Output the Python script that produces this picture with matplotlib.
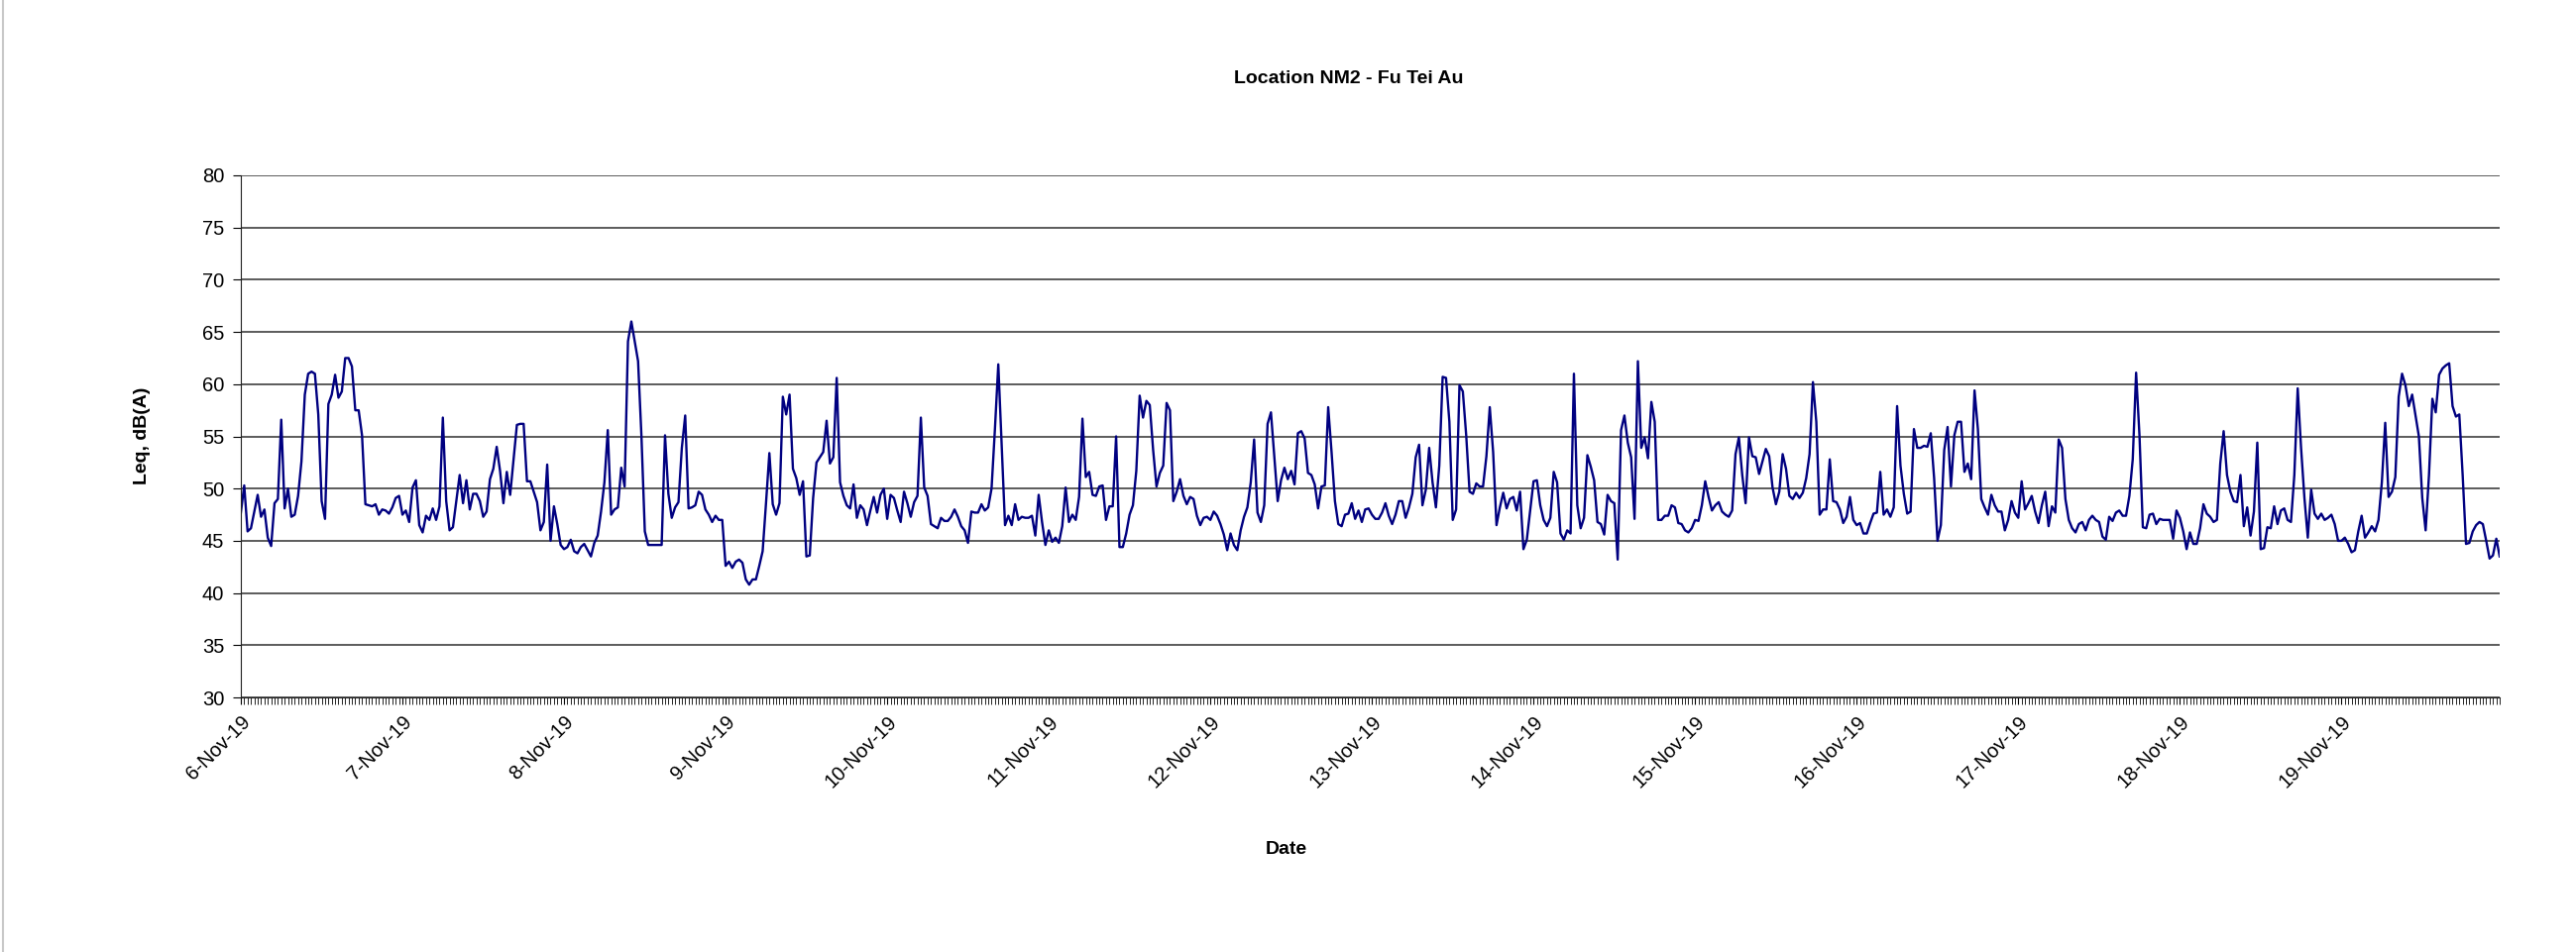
import numpy as np
import pandas as pd
import matplotlib
matplotlib.use('Agg')
from matplotlib import pyplot as plt
import matplotlib.dates as mdates

# half-hourly Leq readings in consecutive pieces
leq_a = [47.7, 50.3, 45.9, 46.2, 47.8, 49.4, 47.3, 48.0, 45.3, 44.5,
         48.6, 49.0, 56.6, 48.1, 50.0, 47.3, 47.5, 49.3, 52.6, 59.0,
         61.0, 61.2, 61.0, 57.1, 48.8, 47.1, 58.1, 59.0, 60.9, 58.7,
         59.3, 62.5, 62.5, 61.7, 57.5, 57.5, 55.1, 48.5, 48.4, 48.3,
         48.5, 47.5, 48.0, 47.9, 47.6, 48.2, 49.1, 49.3, 47.5, 47.9,
         46.8, 50.1, 50.8, 46.5, 45.8, 47.4, 47.0, 48.1, 47.0, 48.3,
         56.8, 48.8, 46.0, 46.3, 48.8, 51.3, 48.6, 50.8, 48.0, 49.5,
         49.5, 48.8, 47.3, 47.8, 50.9, 51.9, 54.0, 51.7, 48.6, 51.6,
         49.4, 52.8, 56.1, 56.2]

leq_b = [56.2, 50.7, 50.7, 49.7, 48.7, 46.0, 46.8, 52.3, 45.0, 48.3,
         46.6, 44.6, 44.2, 44.4, 45.1, 44.0, 43.8, 44.4, 44.7, 44.1,
         43.5, 44.8, 45.5, 47.8, 50.6, 55.6, 47.5, 48.0, 48.2, 52.0,
         50.2, 64.1, 66.0, 64.1, 62.2, 55.0, 45.9, 44.6, 44.6, 44.6,
         44.6, 44.6, 55.1, 49.5, 47.2, 48.2, 48.7, 53.9, 57.0, 48.1,
         48.2, 48.4, 49.7, 49.4, 48.0, 47.5, 46.8, 47.4, 47.0, 47.0,
         42.6, 43.0, 42.4, 43.0, 43.2, 42.9, 41.3, 40.8, 41.3, 41.3,
         42.6, 44.0, 48.6, 53.4, 48.5, 47.5, 48.6, 58.8, 57.1, 59.0,
         51.9, 51.0, 49.4, 50.7, 43.5, 43.6, 49.1, 52.5, 53.0]

leq_c = [53.5, 56.5, 52.4, 53.0, 60.6, 50.6, 49.3, 48.4, 48.1, 50.4,
         47.2, 48.4, 48.0, 46.5, 47.9, 49.2, 47.7, 49.4, 50.0, 47.1,
         49.4, 49.1, 47.9, 46.8, 49.7, 48.6, 47.3, 48.7, 49.3, 56.8,
         50.1, 49.3, 46.6, 46.4, 46.2, 47.2, 46.9, 46.9, 47.3, 48.0,
         47.3, 46.4, 46.0, 44.8, 47.8, 47.7, 47.7, 48.5, 47.9, 48.2,
         50.0, 55.7, 61.9, 54.1, 46.5, 47.4, 46.5, 48.5, 47.0, 47.3,
         47.2, 47.2, 47.4, 45.5, 49.4, 46.8, 44.6, 46.0, 44.9, 45.3,
         44.8, 46.4, 50.1, 46.8, 47.5, 47.0, 49.2, 56.7, 51.1, 51.6,
         49.4, 49.3, 50.2, 50.3, 47.0, 48.3, 48.3, 55.0, 44.4]

leq_d = [44.4, 45.7, 47.5, 48.4, 51.7, 58.9, 56.8, 58.4, 58.0, 53.7,
         50.2, 51.5, 52.2, 58.2, 57.5, 48.8, 49.7, 50.9, 49.3, 48.5,
         49.2, 49.0, 47.4, 46.5, 47.2, 47.3, 47.0, 47.8, 47.4, 46.6,
         45.6, 44.1, 45.7, 44.6, 44.1, 46.0, 47.3, 48.2, 50.6, 54.7,
         47.7, 46.8, 48.4, 56.2, 57.3, 53.1, 48.8, 50.8, 52.0, 50.9,
         51.7, 50.4, 55.3, 55.5, 54.8, 51.5, 51.3, 50.4, 48.1, 50.2,
         50.3, 57.8, 53.5, 48.8, 46.6, 46.4, 47.5, 47.6, 48.6, 47.1,
         47.9, 46.8, 48.0, 48.1, 47.5, 47.1, 47.1, 47.7, 48.6, 47.4,
         46.6, 47.5, 48.8, 48.8, 47.2, 48.2, 49.5, 53.0]

leq_e = [54.2, 48.4, 49.9, 53.9, 50.6, 48.2, 52.2, 60.7, 60.6, 56.4,
         47.0, 48.0, 59.9, 59.3, 55.1, 49.7, 49.5, 50.5, 50.2, 50.2,
         53.1, 57.8, 53.5, 46.5, 48.2, 49.6, 48.1, 49.0, 49.2, 47.9,
         49.7, 44.2, 45.1, 47.9, 50.7, 50.8, 48.4, 47.0, 46.4, 47.2,
         51.6, 50.6, 45.7, 45.1, 46.0, 45.7, 61.0, 48.4, 46.2, 47.2,
         53.2, 52.1, 50.8, 46.8, 46.6, 45.6, 49.4, 48.8, 48.6, 43.2,
         55.6, 57.0, 54.4, 53.0, 47.1, 62.2, 53.9, 54.9, 52.9, 58.3,
         56.4, 47.0, 47.0, 47.4, 47.4, 48.4, 48.2, 46.7, 46.6, 46.0,
         45.8, 46.2, 47.0, 46.9, 48.4, 50.7, 49.2, 47.9]

leq_f = [48.4, 48.7, 47.8, 47.5, 47.3, 47.9, 53.3, 54.9, 51.3, 48.6,
         54.9, 53.1, 53.0, 51.4, 52.6, 53.8, 53.1, 50.1, 48.5, 49.7,
         53.3, 51.9, 49.3, 49.0, 49.6, 49.1, 49.6, 51.0, 53.3, 60.2,
         56.4, 47.5, 48.0, 48.0, 52.8, 48.8, 48.7, 48.0, 46.7, 47.3,
         49.2, 47.0, 46.5, 46.7, 45.7, 45.7, 46.7, 47.6, 47.7, 51.6,
         47.5, 48.0, 47.3, 48.2, 57.9, 52.2, 49.5, 47.6, 47.8, 55.7,
         53.9, 53.9, 54.1, 54.0, 55.3, 51.0, 45.0, 46.5, 53.7, 55.9,
         50.2, 55.1, 56.4, 56.4, 51.6, 52.4, 50.9, 59.4, 55.7, 49.0,
         48.2, 47.5, 49.4, 48.4, 47.8, 47.8, 46.0, 47.0, 48.8]

leq_g = [47.7, 47.2, 50.7, 48.0, 48.6, 49.3, 47.8, 46.7, 48.4, 49.7,
         46.4, 48.3, 47.7, 54.7, 53.9, 49.0, 47.0, 46.2, 45.8, 46.6,
         46.8, 46.0, 47.0, 47.4, 47.0, 46.8, 45.4, 45.1, 47.3, 46.9,
         47.7, 47.9, 47.4, 47.4, 49.3, 52.8, 61.1, 55.1, 46.3, 46.2,
         47.5, 47.6, 46.6, 47.1, 47.0, 47.0, 47.0, 45.2, 47.9, 47.2,
         45.9, 44.2, 45.8, 44.7, 44.7, 46.2, 48.5, 47.6, 47.3, 46.8,
         47.0, 52.4, 55.5, 51.3, 49.7, 48.8, 48.7, 51.3, 46.4, 48.2,
         45.5, 47.8, 54.4, 44.2, 44.3, 46.3, 46.2, 48.3, 46.6]

leq_h = [47.9, 48.1, 47.0, 46.8, 51.3, 59.6, 53.9, 49.1, 45.3, 49.9,
         47.6, 47.1, 47.6, 47.0, 47.2, 47.5, 46.6, 45.0, 45.0, 45.3,
         44.7, 43.9, 44.1, 45.9, 47.4, 45.3, 45.8, 46.4, 45.9, 47.0,
         50.6, 56.3, 49.2, 49.7, 51.1, 58.8, 61.0, 59.9, 57.9, 59.0,
         57.0, 55.0, 49.1, 46.0, 51.3, 58.6, 57.3, 60.9, 61.5, 61.8,
         62.0, 57.9, 56.9, 57.1, 51.3, 44.7, 44.8, 45.9, 46.5, 46.8,
         46.6, 45.0, 43.3, 43.6, 45.2, 43.5]

leq = np.array(leq_a + leq_b + leq_c + leq_d + leq_e + leq_f + leq_g + leq_h)
times = pd.date_range('2019-11-06 00:00', periods=len(leq), freq='30min')

plt.rcParams['font.family'] = ['Liberation Sans', 'DejaVu Sans']

W, H = 2599, 961
fig = plt.figure(figsize=(W / 100, H / 100), dpi=100)
ax = fig.add_axes([243 / W, 1 - 704 / H, (2522 - 243) / W, (704 - 177) / H])

ax.plot(times, leq, color='#000080', lw=1.7)

ax.set_ylim(30, 80)
ax.set_yticks(range(30, 81, 5))
ax.set_xlim(times[0], times[-1])
ax.xaxis.set_major_locator(mdates.DayLocator())
ax.xaxis.set_major_formatter(mdates.DateFormatter('%-d-%b-%y'))
ax.xaxis.set_minor_locator(mdates.MinuteLocator(byminute=[0, 30]))

ax.yaxis.grid(True, color='#404040', lw=1.2)
ax.set_axisbelow(True)
for s in ['top', 'right']:
    ax.spines[s].set_visible(False)
ax.spines['left'].set_color('#202020')
ax.spines['bottom'].set_color('#202020')

ax.tick_params(axis='y', direction='out', length=6, labelsize=14.5, pad=6)
ax.tick_params(axis='x', which='major', direction='out', length=5, labelsize=14.5, pad=6)
ax.tick_params(axis='x', which='minor', direction='out', length=5, width=0.6)
plt.setp(ax.get_xticklabels(), rotation=45, ha='right', rotation_mode='anchor')

fig.text(1361 / W, 1 - 80 / H, 'Location NM2 - Fu Tei Au', ha='center', va='center',
         fontsize=14, fontweight='bold')
fig.text(144 / W, 1 - 440 / H, 'Leq, dB(A)', rotation=90, ha='center', va='center',
         fontsize=14, fontweight='bold')
fig.text(1298 / W, 1 - 858 / H, 'Date', ha='center', va='center',
         fontsize=14, fontweight='bold')

# thin frame line at the left edge of the picture
fig.add_artist(plt.Line2D([2.5 / W, 2.5 / W], [0, 1], color='#c8c8c8', lw=1.5))

fig.savefig('out.png', dpi=100)
